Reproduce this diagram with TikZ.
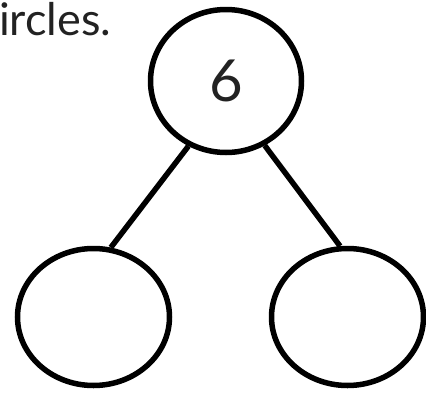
\documentclass[tikz,border=0pt]{standalone}
\usepackage{fontspec}
\setmainfont{Lato}
\usepackage{tikz}
\usetikzlibrary{shapes.geometric, positioning}
\definecolor{cT}{RGB}{34,34,34}

\begin{document}
\begin{tikzpicture}[x=1pt, y=-1pt,
    bond/.style={ellipse, draw=black, line width=5.5pt, inner sep=0pt},
    link/.style={draw=black, line width=5.5pt}]
    \useasboundingbox (0,0) rectangle (426,394);

    % Heading text, cut at the left edge
    \node[anchor=base west, inner sep=0pt, font=\fontsize{45}{50}\selectfont, text=cT] (head) at (-1,35) {ircles.};

    % Whole and its two parts
    \node[bond, minimum width=151pt, minimum height=143pt, font=\fontsize{58}{64}\selectfont, text=cT] (whole) at (226,81) {6};
    \node[bond, minimum width=152pt, minimum height=137pt] (partL) at (93.5,317) {};
    \node[bond, minimum width=152pt, minimum height=137pt] (partR) at (347.5,317) {};

    % Connections
    \draw[link] (whole.240) -- (partL.76);
    \draw[link] (whole.301) -- (partR.96);
\end{tikzpicture}
\end{document}
